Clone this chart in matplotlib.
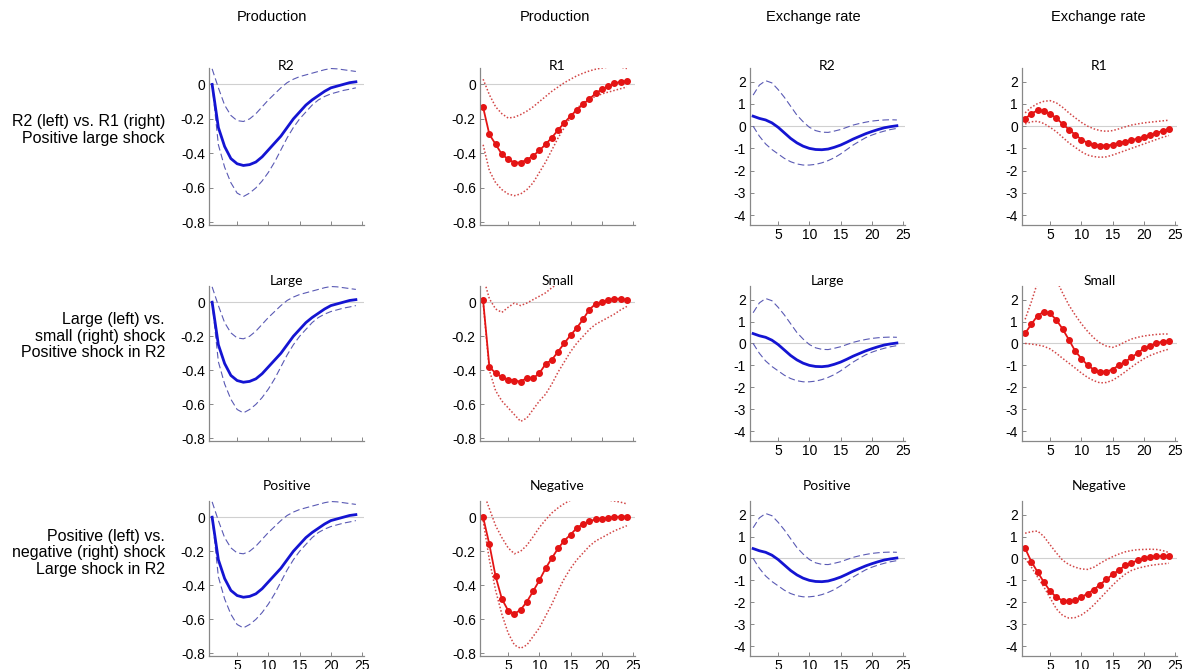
import matplotlib
matplotlib.use("Agg")
import matplotlib.pyplot as plt
import numpy as np

plt.rcParams['font.family'] = ['Liberation Sans', 'DejaVu Sans']
plt.rcParams['axes.unicode_minus'] = False

h = np.arange(1, 25)

# Production, R2 / large / positive shock (blue, same in all rows)
prod_blue = [0.0, -0.25, -0.36, -0.43, -0.46, -0.47, -0.465, -0.45, -0.42, -0.38, -0.34, -0.30,
             -0.25, -0.20, -0.16, -0.12, -0.09, -0.065, -0.04, -0.02, -0.01, 0.0, 0.01, 0.015]
prod_blue_up = [0.09, -0.02, -0.12, -0.18, -0.21, -0.215, -0.20, -0.17, -0.13, -0.09, -0.055, -0.02,
                0.01, 0.03, 0.045, 0.055, 0.065, 0.075, 0.085, 0.092, 0.09, 0.085, 0.08, 0.075]
prod_blue_lo = [0.0, -0.35, -0.48, -0.57, -0.63, -0.65, -0.63, -0.60, -0.56, -0.51, -0.45, -0.38,
                -0.31, -0.25, -0.20, -0.16, -0.12, -0.09, -0.07, -0.055, -0.045, -0.035, -0.028, -0.02]

# Exchange rate, R2 / large / positive shock (blue, same in all rows)
exch_blue = [0.45, 0.35, 0.28, 0.15, -0.05, -0.30, -0.55, -0.75, -0.90, -1.0, -1.05, -1.06,
             -1.03, -0.95, -0.85, -0.72, -0.58, -0.46, -0.34, -0.24, -0.15, -0.07, -0.02, 0.02]
exch_blue_up = [1.4, 1.85, 2.05, 1.95, 1.65, 1.3, 0.9, 0.5, 0.2, -0.05, -0.2, -0.27,
                -0.28, -0.22, -0.15, -0.05, 0.05, 0.12, 0.18, 0.23, 0.26, 0.28, 0.29, 0.28]
exch_blue_lo = [0.0, -0.45, -0.8, -1.05, -1.25, -1.45, -1.6, -1.7, -1.75, -1.75, -1.72, -1.65,
                -1.55, -1.42, -1.25, -1.05, -0.85, -0.68, -0.52, -0.4, -0.3, -0.22, -0.15, -0.1]

# Production, R1
prod_r1 = [-0.133, -0.29, -0.347, -0.405, -0.434, -0.453, -0.453, -0.437, -0.414, -0.383, -0.347, -0.308,
           -0.264, -0.222, -0.183, -0.148, -0.114, -0.085, -0.052, -0.029, -0.01, 0.006, 0.015, 0.019]
prod_r1_up = [0.03, -0.06, -0.13, -0.17, -0.195, -0.19, -0.175, -0.155, -0.13, -0.10, -0.07, -0.04,
              -0.015, 0.01, 0.03, 0.05, 0.065, 0.078, 0.088, 0.095, 0.10, 0.105, 0.10, 0.092]
prod_r1_lo = [-0.35, -0.50, -0.57, -0.61, -0.635, -0.645, -0.635, -0.61, -0.57, -0.51, -0.45, -0.38,
              -0.31, -0.25, -0.19, -0.14, -0.105, -0.085, -0.07, -0.055, -0.045, -0.035, -0.025, -0.015]

# Production, small shock
prod_small = [0.01, -0.38, -0.417, -0.44, -0.454, -0.46, -0.466, -0.445, -0.447, -0.417, -0.363, -0.338,
              -0.29, -0.24, -0.194, -0.15, -0.10, -0.043, -0.01, 0.0, 0.012, 0.02, 0.02, 0.01]
prod_small_up = [0.15, 0.02, -0.04, -0.06, -0.03, -0.005, -0.02, -0.005, 0.015, 0.035, 0.055, 0.085,
                 0.11, 0.13, 0.15, 0.16, 0.18, 0.19, 0.2, 0.2, 0.2, 0.19, 0.18, 0.17]
prod_small_lo = [0.0, -0.40, -0.52, -0.58, -0.62, -0.66, -0.70, -0.68, -0.63, -0.58, -0.54, -0.48,
                 -0.41, -0.35, -0.29, -0.24, -0.2, -0.16, -0.13, -0.11, -0.09, -0.07, -0.045, -0.025]

# Production, negative shock
prod_neg = [0.0, -0.16, -0.348, -0.48, -0.548, -0.567, -0.544, -0.496, -0.435, -0.371, -0.3, -0.24,
            -0.183, -0.137, -0.102, -0.063, -0.04, -0.025, -0.012, -0.008, -0.004, 0.0, 0.004, 0.004]
prod_neg_up = [0.15, 0.05, -0.05, -0.12, -0.18, -0.215, -0.2, -0.165, -0.115, -0.06, -0.015, 0.025,
               0.055, 0.08, 0.1, 0.11, 0.115, 0.115, 0.11, 0.105, 0.1, 0.095, 0.088, 0.078]
prod_neg_lo = [-0.02, -0.25, -0.43, -0.57, -0.68, -0.75, -0.77, -0.75, -0.70, -0.65, -0.58, -0.51,
               -0.43, -0.36, -0.30, -0.25, -0.21, -0.17, -0.14, -0.12, -0.10, -0.08, -0.065, -0.05]

# Exchange rate, R1
exch_r1 = [0.33, 0.57, 0.71, 0.68, 0.56, 0.36, 0.1, -0.15, -0.38, -0.6, -0.75, -0.83,
           -0.87, -0.87, -0.83, -0.75, -0.69, -0.63, -0.56, -0.48, -0.39, -0.3, -0.21, -0.12]
exch_r1_up = [0.6, 0.85, 1.02, 1.12, 1.15, 1.05, 0.85, 0.6, 0.38, 0.17, 0.0, -0.12,
              -0.2, -0.23, -0.2, -0.12, -0.03, 0.05, 0.1, 0.15, 0.18, 0.21, 0.24, 0.27]
exch_r1_lo = [0.1, 0.2, 0.22, 0.12, -0.05, -0.25, -0.5, -0.75, -0.95, -1.15, -1.3, -1.37,
              -1.4, -1.38, -1.3, -1.2, -1.1, -1.0, -0.9, -0.8, -0.7, -0.6, -0.5, -0.42]

# Exchange rate, small shock
exch_small = [0.46, 0.88, 1.27, 1.45, 1.37, 1.07, 0.66, 0.17, -0.34, -0.69, -0.99, -1.2,
              -1.28, -1.28, -1.19, -0.99, -0.84, -0.64, -0.44, -0.23, -0.11, 0.02, 0.08, 0.1]
exch_small_up = [1.1, 1.9, 2.8, 3.3, 3.2, 2.9, 2.3, 1.75, 1.3, 0.9, 0.55, 0.25,
                 0.02, -0.12, -0.18, -0.08, 0.07, 0.2, 0.28, 0.34, 0.38, 0.41, 0.43, 0.43]
exch_small_lo = [0.0, -0.03, -0.07, -0.13, -0.25, -0.45, -0.68, -0.9, -1.12, -1.35, -1.55, -1.7,
                 -1.8, -1.78, -1.68, -1.5, -1.3, -1.08, -0.88, -0.7, -0.55, -0.44, -0.34, -0.26]

# Exchange rate, negative shock
exch_neg = [0.46, -0.15, -0.62, -1.08, -1.49, -1.77, -1.92, -1.96, -1.9, -1.77, -1.6, -1.42,
            -1.19, -0.96, -0.73, -0.53, -0.32, -0.2, -0.09, 0.0, 0.06, 0.09, 0.11, 0.11]
exch_neg_up = [1.15, 1.22, 1.25, 1.0, 0.62, 0.25, -0.08, -0.28, -0.4, -0.48, -0.5, -0.4,
               -0.22, -0.06, 0.08, 0.2, 0.3, 0.36, 0.4, 0.41, 0.42, 0.41, 0.36, 0.27]
exch_neg_lo = [0.0, -0.4, -0.85, -1.3, -1.8, -2.3, -2.6, -2.72, -2.7, -2.58, -2.38, -2.12,
               -1.82, -1.52, -1.22, -0.95, -0.72, -0.55, -0.45, -0.38, -0.32, -0.28, -0.25, -0.22]

col_heads = ['Production', 'Production', 'Exchange rate', 'Exchange rate']
row_labels = ['R2 (left) vs. R1 (right)\nPositive large shock',
              'Large (left) vs.\nsmall (right) shock\nPositive shock in R2',
              'Positive (left) vs.\nnegative (right) shock\nLarge shock in R2']
panel_titles = [['R2', 'R1', 'R2', 'R1'],
                ['Large', 'Small', 'Large', 'Small'],
                ['Positive', 'Negative', 'Positive', 'Negative']]

red_series = [(prod_r1, prod_r1_up, prod_r1_lo, exch_r1, exch_r1_up, exch_r1_lo),
              (prod_small, prod_small_up, prod_small_lo, exch_small, exch_small_up, exch_small_lo),
              (prod_neg, prod_neg_up, prod_neg_lo, exch_neg, exch_neg_up, exch_neg_lo)]

W, H = 1184, 669
fig = plt.figure(figsize=(W / 100, H / 100), dpi=100)

# panel placement in pixels (left edge, width, top and bottom of each row)
col_x = [209, 480, 750, 1022]
col_w = 155
row_top = [68, 286, 501]
row_bot = [225, 441, 656]
title_y = [1.012, 1.035, 1.095]
label_y = [130, 336, 553]

blue = '#1414d2'
blue_band = '#5a5ab4'
red = '#e41414'
red_band = '#d24646'

for r in range(3):
    reds = red_series[r]
    for c in range(4):
        ax = fig.add_axes([col_x[c] / W, 1 - row_bot[r] / H, col_w / W, (row_bot[r] - row_top[r]) / H])
        is_prod = c < 2
        if c == 0:
            ax.plot(h, prod_blue_up, '--', color=blue_band, lw=0.8, dashes=(6, 3))
            ax.plot(h, prod_blue_lo, '--', color=blue_band, lw=0.8, dashes=(6, 3))
            ax.plot(h, prod_blue, '-', color=blue, lw=2.0)
        elif c == 2:
            ax.plot(h, exch_blue_up, '--', color=blue_band, lw=0.8, dashes=(6, 3))
            ax.plot(h, exch_blue_lo, '--', color=blue_band, lw=0.8, dashes=(6, 3))
            ax.plot(h, exch_blue, '-', color=blue, lw=2.0)
        else:
            k = 0 if c == 1 else 3
            ax.plot(h, reds[k + 1], color=red_band, lw=1.1, dashes=(1, 1.3))
            ax.plot(h, reds[k + 2], color=red_band, lw=1.1, dashes=(1, 1.3))
            ax.plot(h, reds[k], '-', color=red, lw=1.3, marker='o', ms=4.0)
        ax.axhline(0, color='#d0d0d0', lw=0.8, zorder=0)
        ax.set_xlim(0.5, 25.3)
        ax.set_xticks([5, 10, 15, 20, 25])
        if is_prod:
            ax.set_ylim(-0.815, 0.095)
            ax.set_yticks([0, -0.2, -0.4, -0.6, -0.8])
            ax.set_yticklabels(['0', '-0.2', '-0.4', '-0.6', '-0.8'])
        else:
            ax.set_ylim(-4.45, 2.62)
            ax.set_yticks([2, 1, 0, -1, -2, -3, -4])
        for s in ['top', 'right']:
            ax.spines[s].set_visible(False)
        for s in ['left', 'bottom']:
            ax.spines[s].set_color('#888888')
            ax.spines[s].set_linewidth(0.9)
        ax.tick_params(direction='in', length=3, width=0.7, color='#888888', labelsize=10, pad=3)
        ax.tick_params(axis='x', pad=2)
        if is_prod and r < 2:
            ax.tick_params(axis='x', labelbottom=False)
        ax.patch.set_alpha(0)
        ax.text(0.5, title_y[r], panel_titles[r][c], transform=ax.transAxes,
                ha='center', va='center', fontsize=10, family=['Lato', 'DejaVu Sans'])

head_x = [272, 555, 813, 1098]
for c in range(4):
    fig.text(head_x[c] / W, 1 - 17 / H, col_heads[c], ha='center', va='center', fontsize=10.5)

for r in range(3):
    fig.text(165 / W, 1 - label_y[r] / H, row_labels[r], ha='right', va='center',
             fontsize=11.5, linespacing=1.15)

fig.savefig('out.png', dpi=100)
